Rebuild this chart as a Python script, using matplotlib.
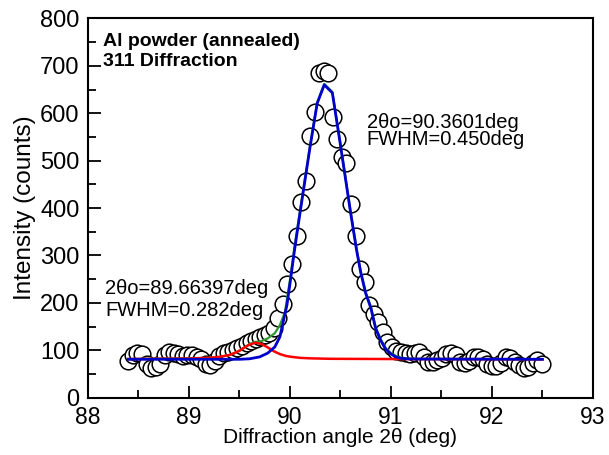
import numpy as np
import matplotlib
matplotlib.use("Agg")
import matplotlib.pyplot as plt
from matplotlib.ticker import MultipleLocator

# measured points (2theta in deg, intensity in counts)
two_theta = [88.400, 88.445, 88.490, 88.535, 88.580, 88.625, 88.670, 88.715, 88.760, 88.805,
             88.850, 88.895, 88.940, 88.985, 89.030, 89.075, 89.120, 89.165, 89.210, 89.255,
             89.300, 89.345, 89.390, 89.435, 89.480, 89.525, 89.570, 89.615, 89.660, 89.705,
             89.750, 89.795, 89.840, 89.885, 89.930, 89.975, 90.020, 90.065, 90.110, 90.155,
             90.200, 90.245, 90.290, 90.335, 90.380, 90.425, 90.470, 90.515, 90.560, 90.605,
             90.650, 90.695, 90.740, 90.785, 90.830, 90.875, 90.920, 90.965, 91.010, 91.055,
             91.100, 91.145, 91.190, 91.235, 91.280, 91.325, 91.370, 91.415, 91.460, 91.505,
             91.550, 91.595, 91.640, 91.685, 91.730, 91.775, 91.820, 91.865, 91.910, 91.955,
             92.000, 92.045, 92.090, 92.135, 92.180, 92.225, 92.270, 92.315, 92.360, 92.405,
             92.450, 92.495]
counts = [78, 90, 95, 92, 72, 62, 64, 70, 90, 96,
          95, 92, 88, 90, 90, 86, 82, 72, 68, 78,
          88, 94, 96, 100, 104, 110, 116, 120, 124, 128,
          132, 136, 148, 168, 198, 240, 282, 342, 412, 458,
          553, 602, 684, 690, 684, 592, 546, 508, 495, 408,
          341, 271, 244, 195, 176, 160, 138, 118, 107, 98,
          96, 94, 92, 94, 97, 86, 76, 75, 80, 84,
          92, 94, 90, 76, 73, 78, 86, 86, 82, 72,
          66, 66, 74, 86, 84, 76, 68, 63, 64, 74,
          80, 70]

# fitted curves
red_x = [88.40, 89.00, 89.20, 89.30, 89.40, 89.45, 89.50, 89.55, 89.60, 89.66,
         89.72, 89.78, 89.84, 89.90, 89.96, 90.02, 90.10, 90.20, 90.40, 91.00, 92.50]
red_y = [81.5, 82.5, 84, 86, 90, 94, 99, 106, 112, 116,
         113, 106, 98, 92, 88, 86, 84, 83, 82, 81.5, 81]

blue_x = [88.40, 89.50, 89.60, 89.70, 89.78, 89.85, 89.90, 89.93, 89.97, 90.00,
          90.045, 90.10, 90.15, 90.20, 90.27, 90.34, 90.42, 90.50, 90.60, 90.66,
          90.70, 90.75, 90.80, 90.85, 90.90, 90.95, 91.00, 91.05, 91.10, 91.20, 92.50]
blue_y = [81, 81, 82, 86, 94, 107, 128, 157, 195, 240,
          311, 390, 460, 530, 621, 660, 643, 533, 391, 311,
          265, 220, 190, 145, 120, 102, 92, 86, 83, 81.5, 81]

green_x = [88.40, 89.20, 89.30, 89.40, 89.45, 89.50, 89.55, 89.60, 89.66, 89.70,
           89.78, 89.85, 89.90, 89.95, 90.00, 90.045, 90.10, 90.15, 90.20, 90.27,
           90.34, 90.42, 90.50, 90.60, 90.66, 90.70, 90.75, 90.80, 90.85, 90.90,
           90.95, 91.00, 91.05, 91.10, 91.20, 92.50]
green_y = [81.5, 84, 86, 90, 94, 99, 106, 113, 118, 118,
           125, 136, 153, 180, 248, 318, 395, 464, 533, 623,
           662, 645, 536, 394, 314, 268, 223, 193, 148, 123,
           104, 94, 88, 84, 82, 81]

fig = plt.figure(figsize=(6.09, 4.55), dpi=100)
ax = fig.add_axes([0.1445, 0.126, 0.829, 0.8334])

ax.plot(two_theta, counts, 'o', ms=12, mfc='white', mec='black', mew=1.1, zorder=2)
ax.plot(green_x, green_y, color='#2e9a2e', lw=1.6, zorder=3)
ax.plot(red_x, red_y, color='#ff0000', lw=1.8, zorder=4)
ax.plot(blue_x, blue_y, color='#0000cc', lw=2.0, zorder=5)

ax.set_xlim(88, 93)
ax.set_ylim(0, 800)
ax.xaxis.set_major_locator(MultipleLocator(1))
ax.xaxis.set_minor_locator(MultipleLocator(0.5))
ax.yaxis.set_major_locator(MultipleLocator(100))
ax.yaxis.set_minor_locator(MultipleLocator(50))
ax.tick_params(which='both', direction='in', width=1.3, top=False, right=False)
ax.tick_params(which='major', length=9)
ax.tick_params(which='minor', length=5.5)
ax.tick_params(axis='y', labelsize=17, pad=6)
ax.tick_params(axis='x', labelsize=16.5, pad=6)
for lab in ax.get_xticklabels() + ax.get_yticklabels():
    lab.set_family('Liberation Sans')
for sp in ax.spines.values():
    sp.set_linewidth(1.5)

ax.set_ylabel('Intensity (counts)', fontsize=17.5, family='Liberation Sans', labelpad=3)
ax.set_xlabel('Diffraction angle 2θ (deg)', fontsize=15,
              family='Liberation Sans', labelpad=-1)

ax.text(88.15, 730, 'Al powder (annealed)\n311 Diffraction', fontsize=14,
        fontweight='bold', family='Liberation Sans', va='center', ha='left',
        linespacing=1.2)
ax.text(90.76, 562, '2θo=90.3601deg\nFWHM=0.450deg', fontsize=14.5,
        family='Liberation Sans', va='center', ha='left', linespacing=0.85)
ax.text(88.17, 208, '2θo=89.66397deg\nFWHM=0.282deg', fontsize=14.5,
        family='Liberation Sans', va='center', ha='left', linespacing=1.2)

fig.savefig('out.png', dpi=100)
